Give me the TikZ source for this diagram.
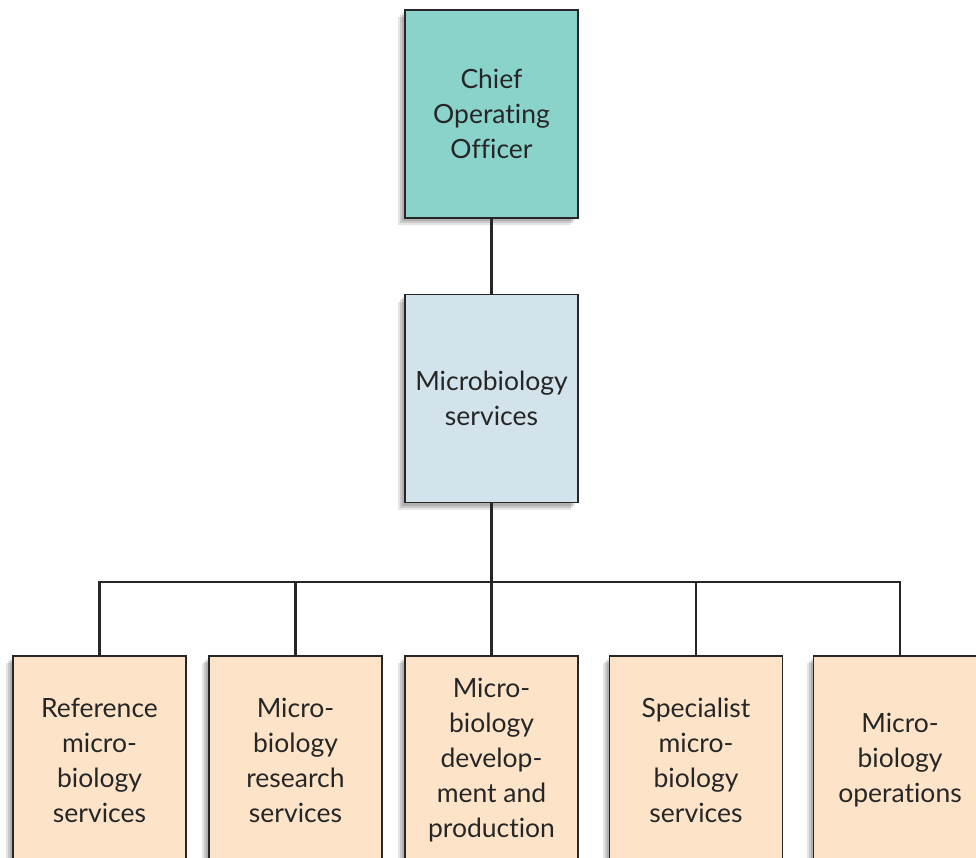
\documentclass[tikz,border=0pt]{standalone}
\usepackage{fontspec}
\setmainfont{Lato}[Ligatures={NoCommon,NoRare}]
\usetikzlibrary{shadows}
\definecolor{teal}{HTML}{8AD3CB}
\definecolor{paleblue}{HTML}{D3E3EC}
\definecolor{peach}{HTML}{FDE4C9}
\definecolor{ink}{HTML}{262626}
\tikzset{
  orgbox/.style={draw=ink, line width=1.2pt, minimum width=173pt, minimum height=208pt,
    align=center, text=ink, inner sep=2pt,
    font=\fontsize{26.5}{35}\selectfont,
    general shadow={fill=black, opacity=0.12, shadow xshift=-3pt, shadow yshift=-3pt},
    general shadow={fill=black, opacity=0.12, shadow xshift=-5pt, shadow yshift=-5pt},
    general shadow={fill=black, opacity=0.10, shadow xshift=-7pt, shadow yshift=-7pt}},
  link/.style={draw=ink, line width=2.2pt}
}
\begin{document}
\begin{tikzpicture}[x=1pt, y=-1pt]
\useasboundingbox (0,0) rectangle (976,858);
\clip (0,0) rectangle (976,858);
\fill[white] (0,0) rectangle (976,858);
\coordinate (bus) at (493,582);
\node[orgbox, fill=teal] (coo) at (491.5,114) {Chief\\Operating\\Officer};
\node[orgbox, fill=paleblue] (mbs) at (491.5,398.5) {Microbiology\\services};
\node[orgbox, fill=peach] (c1) at (99.5,760) {Reference\\micro-\\biology\\services};
\node[orgbox, fill=peach] (c2) at (295.5,760) {Micro-\\biology\\research\\services};
\node[orgbox, fill=peach] (c3) at (491.5,760) {Micro-\\biology\\develop-\\ment and\\production};
\node[orgbox, fill=peach] (c4) at (696,760) {Specialist\\micro-\\biology\\services};
\node[orgbox, fill=peach] (c5) at (900,760) {Micro-\\biology\\operations};
\draw[link] (coo.south) -- (mbs.north);
\draw[link] (mbs.south) -- (mbs.south |- bus);
\draw[link] (c1.north) -- (c1.north |- bus) -- (c5.north |- bus) -- (c5.north);
\draw[link] (c2.north) -- (c2.north |- bus);
\draw[link] (c3.north) -- (c3.north |- bus);
\draw[link] (c4.north) -- (c4.north |- bus);
\end{tikzpicture}
\end{document}
